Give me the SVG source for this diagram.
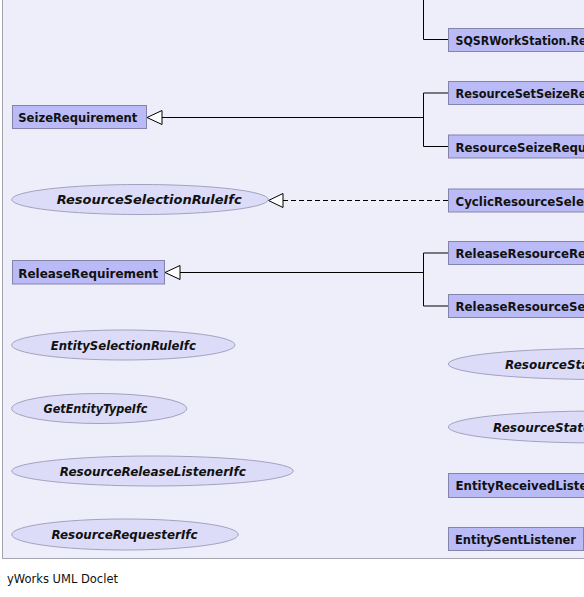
<svg xmlns="http://www.w3.org/2000/svg" width="584" height="597" viewBox="0 0 584 597">
<style>
.panel{fill:#eeeefb;stroke:#a4a4b0;stroke-width:1}
.cls rect{fill:#babaf6;stroke:#8484aa;stroke-width:1}
.ifc ellipse{fill:#dcdcf8;stroke:#a2a2c0;stroke-width:1}
.cls text{font-family:"DejaVu Sans",sans-serif;font-weight:bold;font-size:11.8px;fill:#111}
.ifc text{font-family:"DejaVu Sans",sans-serif;font-weight:bold;font-style:italic;font-size:12px;fill:#111;text-anchor:middle}
.edge{fill:none;stroke:#000;stroke-width:1}
.dash{stroke-dasharray:5,3}
.tri{fill:#fff;stroke:#000;stroke-width:1}
.foot{font-family:"DejaVu Sans",sans-serif;font-size:11.5px;fill:#111}
</style>
<rect width="584" height="597" fill="#fff"/>
<rect class="panel" x="2.5" y="-10" width="700" height="568.5"/>

<g id="connectors">
<path class="edge" d="M423.5,0 V39.5 H448.5"/>
<path class="edge" d="M162,117.5 H423.5 M423.5,93 V146.5 M423.5,93 H448.5 M423.5,146.5 H448.5"/>
<path class="tri" d="M147,117.5 L162,110.5 L162,124.5 Z"/>
<path class="edge dash" d="M283,200.5 H448.5"/>
<path class="tri" d="M268.5,200.5 L283,193.5 L283,207.5 Z"/>
<path class="edge" d="M180,272.5 H423.5 M423.5,253 V306 M423.5,253 H448.5 M423.5,306 H448.5"/>
<path class="tri" d="M165,272.5 L180,265.5 L180,279.5 Z"/>
</g>

<g id="SQSRWorkStation" class="cls"><rect x="448.5" y="28.5" width="200" height="23"/><text x="455.5" y="45" textLength="131" lengthAdjust="spacingAndGlyphs">SQSRWorkStation.Re</text></g>
<g id="ResourceSetSeizeRe" class="cls"><rect x="448.5" y="81.5" width="200" height="23"/><text x="455.5" y="98" textLength="131" lengthAdjust="spacingAndGlyphs">ResourceSetSeizeRe</text></g>
<g id="ResourceSeizeRequ" class="cls"><rect x="448.5" y="135" width="200" height="23"/><text x="455.5" y="151.5">ResourceSeizeRequ</text></g>
<g id="SeizeRequirement" class="cls"><rect x="12.5" y="105.5" width="134" height="23"/><text x="18.3" y="122" textLength="119" lengthAdjust="spacingAndGlyphs">SeizeRequirement</text></g>
<g id="ResourceSelectionRuleIfc" class="ifc"><ellipse cx="140" cy="199.5" rx="128.3" ry="15"/><text x="149.2" y="204" textLength="185" lengthAdjust="spacingAndGlyphs">ResourceSelectionRuleIfc</text></g>
<g id="CyclicResourceSele" class="cls"><rect x="448.5" y="189" width="200" height="23"/><text x="455.5" y="205.5">CyclicResourceSele</text></g>
<g id="ReleaseResourceRe" class="cls"><rect x="448.5" y="241.5" width="200" height="23"/><text x="455.5" y="258">ReleaseResourceRe</text></g>
<g id="ReleaseResourceSe" class="cls"><rect x="448.5" y="294.5" width="200" height="23"/><text x="455.5" y="311">ReleaseResourceSe</text></g>
<g id="ReleaseRequirement" class="cls"><rect x="12.5" y="260.5" width="152" height="23.5"/><text x="18.3" y="277.5" textLength="140" lengthAdjust="spacingAndGlyphs">ReleaseRequirement</text></g>
<g id="EntitySelectionRuleIfc" class="ifc"><ellipse cx="123.3" cy="345" rx="111.7" ry="15"/><text x="123.3" y="349.5" textLength="145" lengthAdjust="spacingAndGlyphs">EntitySelectionRuleIfc</text></g>
<g id="GetEntityTypeIfc" class="ifc"><ellipse cx="99.2" cy="408.5" rx="87.5" ry="15"/><text x="95.5" y="413" textLength="104" lengthAdjust="spacingAndGlyphs">GetEntityTypeIfc</text></g>
<g id="ResourceReleaseListenerIfc" class="ifc"><ellipse cx="152.5" cy="471" rx="140.8" ry="15"/><text x="152.8" y="475.5" textLength="186" lengthAdjust="spacingAndGlyphs">ResourceReleaseListenerIfc</text></g>
<g id="ResourceRequesterIfc" class="ifc"><ellipse cx="125" cy="534.5" rx="113.3" ry="15.5"/><text x="124.5" y="539" textLength="146" lengthAdjust="spacingAndGlyphs">ResourceRequesterIfc</text></g>
<g id="ResourceSta" class="ifc"><ellipse cx="600" cy="364" rx="151.7" ry="15.5"/><text x="505" y="368.5" style="text-anchor:start">ResourceSta</text></g>
<g id="ResourceState" class="ifc"><ellipse cx="600" cy="427" rx="151.7" ry="16"/><text x="493" y="431.5" style="text-anchor:start">ResourceState</text></g>
<g id="EntityReceivedListe" class="cls"><rect x="448.5" y="473.5" width="200" height="24"/><text x="455.5" y="490">EntityReceivedListe</text></g>
<g id="EntitySentListener" class="cls"><rect x="448.5" y="527.5" width="135" height="23"/><text x="455" y="544" textLength="121" lengthAdjust="spacingAndGlyphs">EntitySentListener</text></g>

<text class="foot" x="7" y="582.5">yWorks UML Doclet</text>
</svg>
